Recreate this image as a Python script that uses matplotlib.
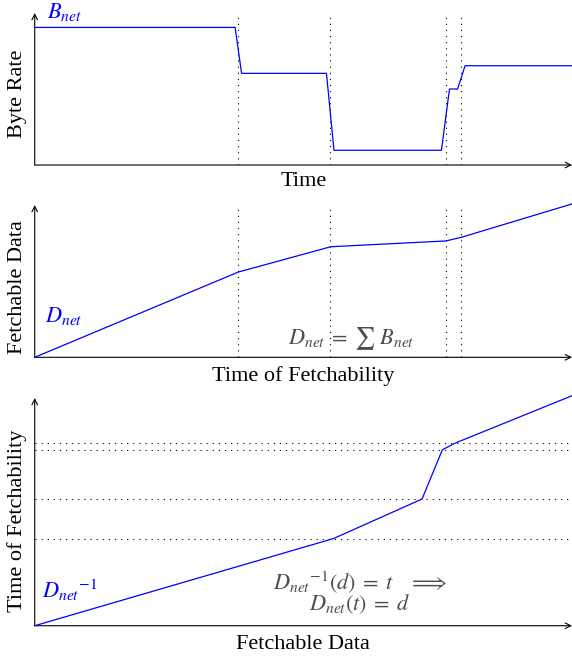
import numpy as np
import matplotlib
matplotlib.use("Agg")
import matplotlib.pyplot as plt

plt.rcParams['font.family'] = ['Liberation Serif', 'DejaVu Serif']
plt.rcParams['mathtext.fontset'] = 'stix'

# byte rate over time (panel 1)
rate_t = [0, 37.3, 38.5, 54.3, 55.7, 75.7, 77.2, 78.7, 80.1, 100]
rate_b = [90.5, 90.5, 60.3, 60.3, 9.7, 9.7, 50.0, 50.0, 65.3, 65.3]

# fetchable data over time of fetchability (panel 2, inverse in panel 3)
fetch_t = [0, 37.9, 55.1, 76.5, 79.4, 100]
fetch_d = [0, 56.0, 72.6, 76.4, 78.8, 100.7]

# rate change marks
marks = [37.8, 55.0, 76.5, 79.3]

blue = '#0000ff'
gray = '#4d4d4d'
fs = 16
ms = 16


def setup(ax):
    for s in ax.spines.values():
        s.set_visible(False)
    ax.set_xticks([])
    ax.set_yticks([])
    ax.annotate('', xy=(1, 0), xytext=(0, 0), xycoords='axes fraction',
                arrowprops=dict(arrowstyle='->', lw=0.8, color='k', shrinkA=0, shrinkB=0))
    ax.annotate('', xy=(0, 1), xytext=(0, 0), xycoords='axes fraction',
                arrowprops=dict(arrowstyle='->', lw=0.8, color='k', shrinkA=0, shrinkB=0))


fig = plt.figure(figsize=(5.72, 6.59), dpi=100)

# panel 1
ax1 = fig.add_axes([0.0607, 0.7496, 0.9393, 0.2307])
setup(ax1)
for m in marks:
    ax1.axvline(m, color='k', lw=0.8, dashes=(1, 4.5), zorder=1)
ax1.plot(rate_t, rate_b, color=blue, lw=0.9, clip_on=False, zorder=3)
ax1.set_xlim(0, 100)
ax1.set_ylim(0, 100)
ax1.set_ylabel('Byte Rate', fontsize=fs)
ax1.yaxis.set_label_coords(-0.015, 0.47)
ax1.set_xlabel('Time', fontsize=fs)
ax1.xaxis.set_label_coords(0.5, -0.045)
ax1.text(0.022, 0.968, r'$B_{\mathit{net}}$', color=blue, fontsize=ms,
         transform=ax1.transAxes, ha='left', va='baseline')

# panel 2
ax2 = fig.add_axes([0.0607, 0.4578, 0.9393, 0.2311])
setup(ax2)
for m in marks:
    ax2.axvline(m, color='k', lw=0.8, dashes=(1, 4.5), zorder=1)
ax2.plot(fetch_t, fetch_d, color=blue, lw=0.9, clip_on=False, zorder=3)
ax2.set_xlim(0, 100)
ax2.set_ylim(0, 100)
ax2.set_ylabel('Fetchable Data', fontsize=fs)
ax2.yaxis.set_label_coords(-0.015, 0.46)
ax2.set_xlabel('Time of Fetchability', fontsize=fs)
ax2.xaxis.set_label_coords(0.5, -0.055)
ax2.text(0.02, 0.234, r'$D_{\mathit{net}}$', color=blue, fontsize=ms,
         transform=ax2.transAxes, ha='left', va='baseline')
ax2.text(0.472, 0.086, r'$D_{\mathit{net}}\;=\;\sum\;B_{\mathit{net}}$', color=gray,
         fontsize=ms, transform=ax2.transAxes, ha='left', va='baseline')

# panel 3 (inverse)
ax3 = fig.add_axes([0.0607, 0.0505, 0.9393, 0.3455])
setup(ax3)
for m in marks:
    ax3.axhline(m, color='k', lw=0.8, dashes=(1, 4.5), zorder=1)
ax3.plot(fetch_d, fetch_t, color=blue, lw=0.9, clip_on=False, zorder=3)
ax3.set_xlim(0, 100.7)
ax3.set_ylim(0, 99)
ax3.set_ylabel('Time of Fetchability', fontsize=fs)
ax3.yaxis.set_label_coords(-0.015, 0.46)
ax3.set_xlabel('Fetchable Data', fontsize=fs)
ax3.xaxis.set_label_coords(0.5, -0.04)
ax3.text(0.013, 0.12, r'${D_{\mathit{net}}}^{-1}$', color=blue, fontsize=ms,
         transform=ax3.transAxes, ha='left', va='baseline')
ax3.text(0.605, 0.068,
         r'${D_{\mathit{net}}}^{-1}(d)\;=\;t\quad\Longrightarrow$' + '\n'
         + r'$D_{\mathit{net}}(t)\;=\;d$',
         color=gray, fontsize=ms, transform=ax3.transAxes, ha='center',
         va='baseline', multialignment='center', linespacing=0.8)

fig.savefig('out.png', dpi=100)
